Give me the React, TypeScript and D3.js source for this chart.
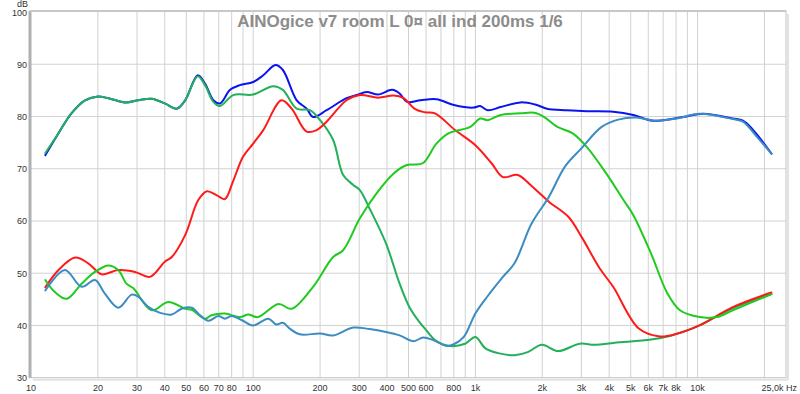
import React from "react";
import * as d3 from "d3";

const TITLE = "AINOgice v7 room L 0\u00a4 all ind 200ms 1/6";

const yTicks = [30, 40, 50, 60, 70, 80, 90, 100];
const xGrid = [20, 30, 40, 50, 60, 70, 80, 90, 100, 200, 300, 400, 500, 600, 700, 800, 900, 1000, 2000, 3000, 4000, 5000, 6000, 7000, 8000, 9000, 10000, 20000];
const xLabels: [number, string][] = [
  [10, "10"], [20, "20"], [30, "30"], [40, "40"], [50, "50"], [60, "60"], [70, "70"], [80, "80"],
  [100, "100"], [200, "200"], [300, "300"], [400, "400"], [500, "500"], [600, "600"], [800, "800"],
  [1000, "1k"], [2000, "2k"], [3000, "3k"], [4000, "4k"], [5000, "5k"], [6000, "6k"], [7000, "7k"], [8000, "8k"], [10000, "10k"],
];

const sumBlue: [number, number][] = [
  [11.6, 72.6], [13.3, 76.8], [15.2, 80.6], [17.5, 83.1], [19.8, 83.8], [22.3, 83.5], [26.5, 82.7], [30.4, 83.1], [34.9, 83.4],
  [40, 82.5], [45.3, 81.5], [49.4, 83.1], [56.3, 87.9], [60.7, 86.3], [66.2, 83.1], [70.9, 82.5], [78.7, 85.1], [87, 86.0],
  [100, 86.6], [111, 87.9], [126, 89.85], [136, 88.9], [157, 83.1], [174, 81.5], [186, 79.9], [214, 81.2], [263, 83.5],
  [292, 84.1], [324, 84.7], [365, 84.2], [422, 85.1], [456, 84.4], [492, 82.8], [566, 83.1], [668, 83.3], [800, 82.2],
  [980, 81.7], [1050, 82.0], [1137, 81.2], [1300, 81.8], [1600, 82.7], [1890, 82.2], [2100, 81.5], [2580, 81.2], [3170, 81.0],
  [4170, 80.9], [5140, 80.3], [6280, 79.2], [8600, 79.9], [10600, 80.5], [14400, 79.6], [16000, 79.2], [17800, 77.4], [21500, 72.9],
];

const woofer: [number, number][] = [
  [11.6, 73.0], [13.3, 76.8], [15.2, 80.6], [17.5, 83.1], [19.8, 83.8], [22.3, 83.5], [26.5, 82.7], [30.4, 83.1], [34.9, 83.4],
  [40, 82.5], [45.3, 81.5], [49.4, 83.1], [56.3, 87.7], [60.7, 86.0], [66.2, 82.8], [70.9, 82.0], [81.3, 84.1], [100, 84.2],
  [123, 85.8], [136, 85.1], [157, 81.5], [180, 81.2], [200, 79.3], [229, 75.5], [254, 68.8], [282, 66.9], [302, 65.9],
  [334, 62.4], [396, 55.7], [456, 48.0], [505, 43.5], [566, 40.4], [593, 39.4], [658, 37.2], [755, 36.1], [899, 36.5],
  [1000, 37.8], [1110, 35.6], [1265, 34.7], [1500, 34.3], [1720, 34.9], [1990, 36.3], [2360, 35.1], [2950, 36.5], [3440, 36.3],
  [4240, 36.7], [6170, 37.3], [7500, 38.0], [8920, 39.0], [10200, 40.0], [14400, 43.3], [21500, 46.0],
];

const midRed: [number, number][] = [
  [11.6, 47.3], [13.3, 50.6], [15.8, 53.0], [18.1, 51.9], [20.8, 49.8], [24.7, 50.6], [29.4, 50.25], [34.3, 49.3], [40, 52.2],
  [43, 53.1], [49.4, 57.3], [56.6, 64.0], [61.9, 65.7], [68.6, 64.9], [74.6, 64.2], [81, 67.5], [90, 72.3], [100, 74.8],
  [111, 77.4], [134, 83.1], [149, 81.5], [174, 77.1], [193, 77.4], [214, 79.0], [263, 83.1], [302, 84.1], [365, 83.6],
  [429, 84.0], [475, 83.5], [536, 81.4], [593, 80.8], [658, 80.6], [810, 77.4], [1000, 74.5], [1185, 71.0], [1330, 68.4],
  [1550, 68.8], [1790, 66.7], [2140, 63.7], [2620, 60.8], [3000, 57.0], [3630, 50.9], [4170, 47.4], [5440, 39.4], [6770, 37.9],
  [8050, 38.4], [10200, 40.0], [14400, 43.5], [21500, 46.3],
];

const midGreen: [number, number][] = [
  [11.6, 48.7], [12.8, 46.4], [14.5, 45.1], [16.9, 48.0], [19.4, 50.25], [22.3, 51.5], [24.7, 50.6], [26.9, 48.0], [28.9, 47.1],
  [34.9, 42.9], [41.5, 44.5], [49.4, 43.2], [52.9, 43.0], [60.7, 41.3], [64.9, 41.95], [74.6, 42.3], [87.1, 41.6], [95, 42.1],
  [105, 41.6], [130, 44.1], [149, 43.2], [186, 47.4], [229, 53.1], [254, 54.4], [302, 60.5], [359, 65.3], [429, 69.1],
  [492, 70.7], [528, 70.8], [582, 71.1], [668, 74.8], [760, 76.8], [949, 78.0], [1050, 79.6], [1137, 79.3], [1300, 80.3],
  [1600, 80.6], [1840, 80.7], [2040, 79.9], [2340, 78.0], [2730, 76.8], [3170, 74.2], [3880, 69.1], [4640, 64.0], [5140, 61.1],
  [6170, 53.8], [7320, 46.1], [8330, 42.9], [10200, 41.6], [12200, 41.6], [14400, 42.9], [21500, 46.0],
];

const tweeter: [number, number][] = [
  [11.6, 46.7], [14.2, 50.6], [16.9, 47.4], [19.4, 48.7], [21.5, 46.1], [24.7, 43.4], [28.4, 45.9], [30.4, 45.5], [33.7, 43.55],
  [38.1, 42.4], [43, 42.1], [47.6, 43.2], [52.9, 43.4], [57.7, 41.95], [62.9, 40.9], [69.7, 41.8], [74.6, 41.3], [80, 41.8],
  [89, 41.0], [100, 40.0], [117, 41.3], [127, 40.2], [136, 40.5], [146, 39.4], [162, 38.3], [200, 38.45], [229, 38.1],
  [282, 39.6], [334, 39.3], [396, 38.75], [456, 38.1], [528, 37.0], [582, 37.7], [647, 37.2], [741, 36.1], [800, 36.4],
  [887, 37.8], [1000, 42.3], [1130, 45.5], [1330, 49.3], [1500, 51.9], [1790, 59.5], [2140, 64.6], [2530, 70.4], [3000, 73.9],
  [3700, 78.0], [4390, 79.4], [5300, 79.8], [6410, 79.2], [8050, 79.6], [10200, 80.5], [14400, 79.5], [16000, 79.0],
  [18500, 76.1], [21500, 72.9],
];

const series: { data: [number, number][]; color: string }[] = [
  { data: sumBlue, color: "#0a14f0" },
  { data: woofer, color: "#22b05a" },
  { data: midRed, color: "#ff1a1a" },
  { data: midGreen, color: "#1ecb1e" },
  { data: tweeter, color: "#3a8cc2" },
];

const W = 800;
const H = 394;
const L = 31;
const R = 786;
const T = 12;
const B = 377.7;

export default function App() {
  const x = d3.scaleLog().domain([10, 25000]).range([L, R]);
  const y = d3.scaleLinear().domain([30, 100]).range([B, T]);
  const line = d3
    .line<[number, number]>()
    .x((d) => x(d[0]))
    .y((d) => y(d[1]))
    .curve(d3.curveCatmullRom.alpha(0.5));
  const font = "'Liberation Sans', Arial, sans-serif";
  return (
    <svg width={W} height={H} style={{ position: "absolute", left: 0, top: 0, background: "#fff" }} fontFamily={font}>
      <rect x={0} y={0} width={W} height={H} fill="#fff" />
      {xGrid.map((f) => (
        <line key={"vx" + f} x1={x(f)} x2={x(f)} y1={T} y2={B} stroke="#d2d2d2" strokeWidth={1} />
      ))}
      {yTicks.slice(1, -1).map((v) => (
        <line key={"hy" + v} x1={L} x2={R} y1={y(v)} y2={y(v)} stroke="#d2d2d2" strokeWidth={1} />
      ))}
      {/* frame */}
      <line x1={R + 2} x2={R + 2} y1={T + 2} y2={B + 2} stroke="#e2e2e2" strokeWidth={2} />
      <line x1={L + 2} x2={R + 2} y1={B + 2} y2={B + 2} stroke="#e2e2e2" strokeWidth={2} />
      <rect x={L - 1} y={T - 1} width={R - L + 1} height={B - T + 1} fill="none" stroke="#c4c4c4" strokeWidth={1} />
      <line x1={L - 1} x2={L - 1} y1={T - 1} y2={B} stroke="#b0b0b0" strokeWidth={3} />
      <line x1={L - 1} x2={R} y1={T - 1} y2={T - 1} stroke="#c8c8c8" strokeWidth={2} />
      {series.map((s, i) => (
        <path key={i} d={line(s.data) || ""} fill="none" stroke={s.color} strokeWidth={2} strokeLinejoin="round" strokeLinecap="round" />
      ))}
      <text x={400} y={27} textAnchor="middle" fontSize={17} fontWeight="bold" fill="#8c8c8c">
        {TITLE}
      </text>
      <text x={28} y={7} textAnchor="end" fontSize={9} fill="#333">dB</text>
      {yTicks.map((v) => (
        <text key={"yl" + v} x={27} y={y(v) + 3.5} textAnchor="end" fontSize={9} fill="#333">
          {v}
        </text>
      ))}
      {xLabels.map(([f, s]) => (
        <text key={"xl" + f} x={x(f)} y={391} textAnchor="middle" fontSize={9} fill="#333">
          {s}
        </text>
      ))}
      <text x={797} y={391} textAnchor="end" fontSize={9} fill="#333">25,0k Hz</text>
    </svg>
  );
}
